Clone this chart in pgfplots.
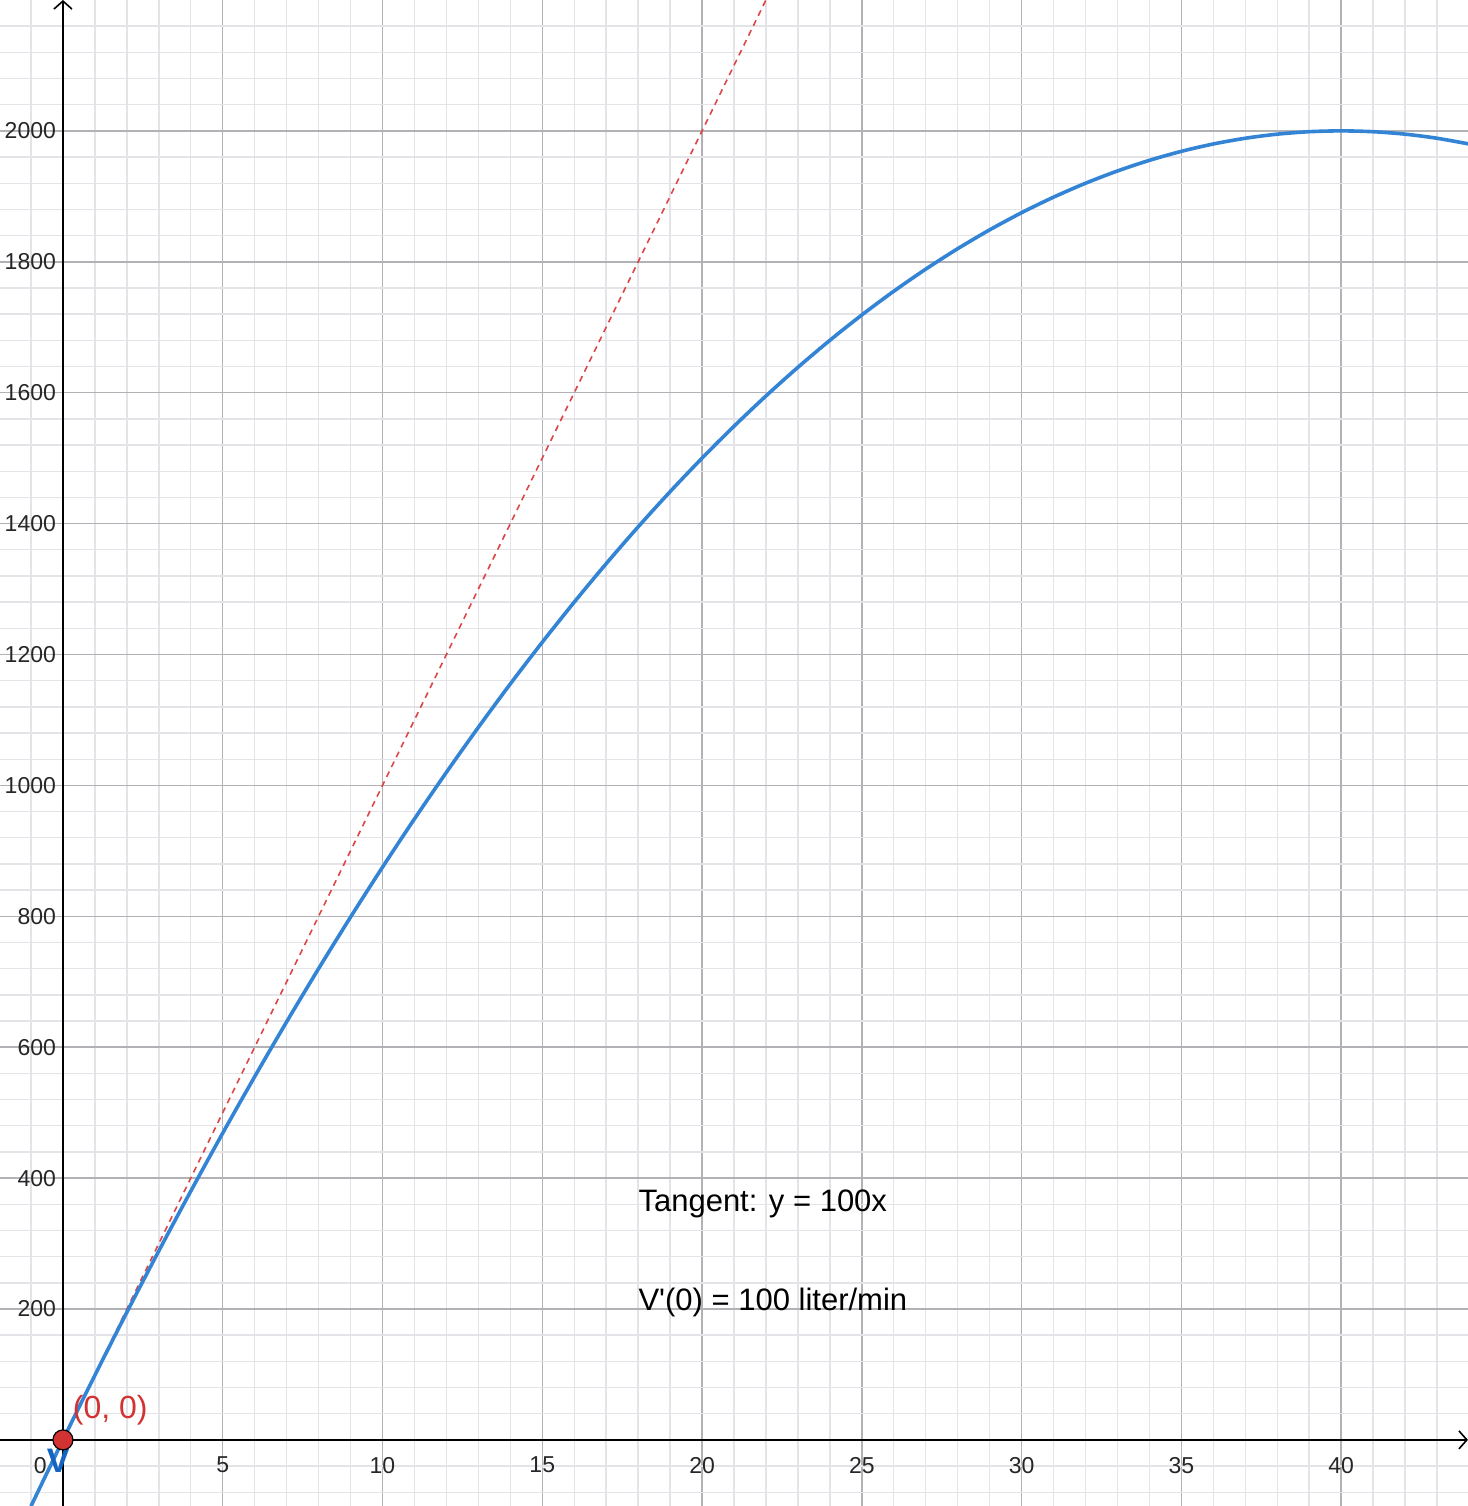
\documentclass[border=0pt]{standalone}
\usepackage{pgfplots}
\pgfplotsset{compat=1.18}
\usetikzlibrary{arrows.meta}
\usepackage{fontspec}
\setmainfont{Liberation Sans}[Ligatures=TeXOff]
\definecolor{curveblue}{RGB}{52,132,214}
\definecolor{labelblue}{RGB}{21,101,192}
\definecolor{tanred}{RGB}{220,70,70}
\definecolor{ptred}{RGB}{210,50,50}
\definecolor{majgrid}{RGB}{178,178,182}
\definecolor{mingrid}{RGB}{228,228,232}
\begin{document}
\begin{tikzpicture}
\begin{axis}[
  scale only axis,
  width=734pt, height=753pt,
  xmin=-1.97, xmax=43.97,
  ymin=-101, ymax=2200,
  axis lines=middle,
  axis line style={line width=1pt, black, -{Straight Barb[length=4pt,width=9pt,line width=0.8pt]}},
  xtick={5,10,15,20,25,30,35,40},
  ytick={200,400,600,800,1000,1200,1400,1600,1800,2000},
  minor xtick={-1,1,2,3,4,6,7,8,9,11,12,13,14,16,17,18,19,21,22,23,24,26,27,28,29,31,32,33,34,36,37,38,39,41,42,43},
  minor ytick={-80,-40,40,80,120,160,240,280,320,360,440,480,520,560,640,680,720,760,840,880,920,960,1040,1080,1120,1160,1240,1280,1320,1360,1440,1480,1520,1560,1640,1680,1720,1760,1840,1880,1920,1960,2040,2080,2120,2160},
  grid=both,
  major grid style={majgrid, line width=0.75pt},
  minor grid style={mingrid, line width=0.7pt},
  major tick length=0pt, minor tick length=0pt,
  tick label style={font=\fontsize{11.5}{13}\selectfont, text=black!85},
  /pgf/number format/assume math mode=true,
  /pgf/number format/set thousands separator={},
  xticklabel style={anchor=north, yshift=-5pt},
  yticklabel style={anchor=east, xshift=0pt},
]
\addplot[tanred, line width=0.8pt, dash pattern=on 3pt off 2.5pt] coordinates {(-1.5,-150) (22.5,2250)};
\addplot[curveblue, line width=1.8pt, smooth] coordinates {
(-1,-101.25) (0,0) (1,98.75) (2,195) (3,288.75) (4,380) (5,468.75) (6,555) (7,638.75) (8,720) (9,798.75)
(10,875) (11,948.75) (12,1020) (13,1088.75) (14,1155) (15,1218.75) (16,1280) (17,1338.75) (18,1395) (19,1448.75)
(20,1500) (21,1548.75) (22,1595) (23,1638.75) (24,1680) (25,1718.75) (26,1755) (27,1788.75) (28,1820) (29,1848.75)
(30,1875) (31,1898.75) (32,1920) (33,1938.75) (34,1955) (35,1968.75) (36,1980) (37,1988.75) (38,1995) (39,1998.75)
(40,2000) (41,1998.75) (42,1995) (43,1988.75) (44,1980)
};
\addplot[only marks, mark=*, mark size=5pt, mark options={fill=ptred, draw=black, line width=0.6pt}] coordinates {(0,0)};
\node[anchor=west, text=ptred, font=\fontsize{16}{18}\selectfont, inner sep=0pt] at (axis cs:0.3,46) {(0, 0)};
\node[text=labelblue, font=\fontsize{17}{19}\selectfont\bfseries, inner sep=0pt] at (axis cs:-0.15,-32) {V};
\node[anchor=north east, font=\fontsize{11.5}{13}\selectfont, text=black!85, inner sep=0pt] at (axis cs:-0.5,-26) {0};
\node[anchor=west, font=\fontsize{15.5}{18}\selectfont, inner sep=0pt] at (axis cs:18.0,360) {Tangent: y = 100x};
\node[anchor=west, font=\fontsize{15.5}{18}\selectfont, inner sep=0pt] at (axis cs:18.0,210) {V'(0) = 100 liter/min};
\coordinate (sw) at (rel axis cs:0,0);
\coordinate (ne) at (rel axis cs:1,1);
\end{axis}
\pgfresetboundingbox
\useasboundingbox (sw) rectangle (ne);
\end{tikzpicture}
\end{document}
